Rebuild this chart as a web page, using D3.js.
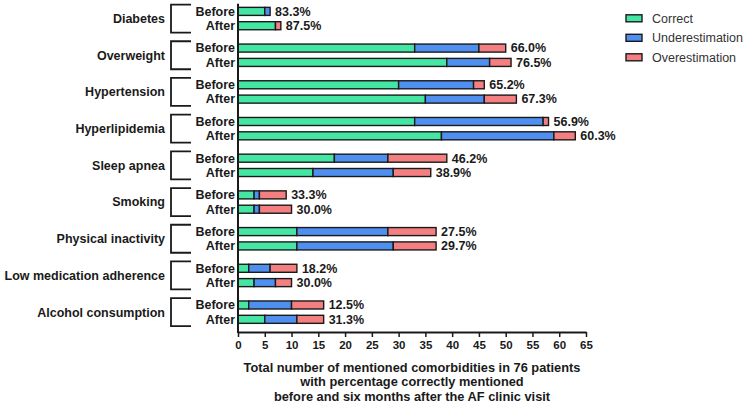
<!DOCTYPE html>
<html>
<head>
<meta charset="utf-8">
<script src="https://cdn.jsdelivr.net/npm/d3@7"></script>
<style>
    body { margin: 0; background: #fff; }
    svg { font-family: 'Liberation Sans', Arial, sans-serif; }
</style>
</head>
<body>
<div id="chart"></div>
<script>
// comorbidities, top to bottom
const categories = ['Diabetes', 'Overweight', 'Hypertension', 'Hyperlipidemia', 'Sleep apnea',
    'Smoking', 'Physical inactivity', 'Low medication adherence', 'Alcohol consumption']
const moments = ['Before', 'After']
const seriesNames = ['Correct', 'Underestimation', 'Overestimation']
const seriesColors = ['#45e6a4', '#4f8ff0', '#f47f80']

// counts per category, [before, after]
const correct = [[5, 7], [33, 39], [30, 35], [33, 38], [18, 14], [3, 3], [11, 11], [2, 3], [2, 5]]
const underestimation = [[1, 0], [12, 8], [14, 11], [24, 21], [10, 15], [1, 1], [17, 18], [4, 4], [8, 6]]
const overestimation = [[0, 1], [5, 4], [2, 6], [1, 4], [11, 7], [5, 6], [9, 8], [5, 3], [6, 5]]
const percentLabels = [['83.3%', '87.5%'], ['66.0%', '76.5%'], ['65.2%', '67.3%'], ['56.9%', '60.3%'],
    ['46.2%', '38.9%'], ['33.3%', '30.0%'], ['27.5%', '29.7%'], ['18.2%', '30.0%'], ['12.5%', '31.3%']]
const xTicks = d3.range(0, 66, 5)
const axisTitle = ['Total number of mentioned comorbidities in 76 patients',
    'with percentage correctly mentioned',
    'before and six months after the AF clinic visit']

const width = 747, height = 407
const margin = {top: 0.2, left: 238}
const plotWidth = 348, plotHeight = 330.3

const svg = d3.select('#chart').append('svg')
    .attr('width', width)
    .attr('height', height)

const g = svg.append('g')
    .attr('transform', 'translate(' + margin.left + ',' + margin.top + ')')

const x = d3.scaleLinear().domain([0, 65]).range([0, plotWidth])
const y = d3.scaleBand().domain(categories).range([0, plotHeight])
const ySub = d3.scaleBand().domain(moments).range([0, y.bandwidth()])
    .paddingInner(0.44).paddingOuter(0.5)

// build rows
const rows = []
categories.forEach((cat, i) => {
    moments.forEach((m, j) => {
        const vals = [correct[i][j], underestimation[i][j], overestimation[i][j]]
        let start = 0
        const segs = vals.map((v, k) => {
            const s = {start: start, end: start + v, color: seriesColors[k]}
            start += v
            return s
        })
        rows.push({cat: cat, moment: m, segs: segs, total: start, label: percentLabels[i][j]})
    })
})

const rowG = g.selectAll('.row')
    .data(rows)
    .enter().append('g')
    .attr('class', 'row')
    .attr('transform', d => 'translate(0,' + (y(d.cat) + ySub(d.moment)) + ')')

rowG.selectAll('rect')
    .data(d => d.segs.filter(s => s.end > s.start))
    .enter().append('rect')
    .attr('x', s => x(s.start))
    .attr('width', s => x(s.end) - x(s.start))
    .attr('y', 0)
    .attr('height', ySub.bandwidth())
    .attr('fill', s => s.color)
    .attr('stroke', '#1a1a1a')
    .attr('stroke-width', 1.4)

rowG.append('text')
    .attr('x', d => x(d.total) + 5)
    .attr('y', ySub.bandwidth() / 2)
    .attr('dy', '0.35em')
    .style('font-size', '12.5px')
    .style('font-weight', 'bold')
    .attr('fill', '#1a1a1a')
    .text(d => d.label)

rowG.append('text')
    .attr('x', -3)
    .attr('y', ySub.bandwidth() / 2)
    .attr('dy', '0.35em')
    .attr('text-anchor', 'end')
    .style('font-size', '12.5px')
    .style('font-weight', 'bold')
    .attr('fill', '#1a1a1a')
    .text(d => d.moment)

// brackets + category names
const catG = g.selectAll('.cat')
    .data(categories)
    .enter().append('g')
    .attr('class', 'cat')
    .attr('transform', d => 'translate(0,' + (y(d) + y.bandwidth() / 2) + ')')

catG.append('path')
    .attr('d', 'M-47,-14H-67V14H-47')
    .attr('fill', 'none')
    .attr('stroke', '#1a1a1a')
    .attr('stroke-width', 1.8)

catG.append('text')
    .attr('x', -73)
    .attr('dy', '0.35em')
    .attr('text-anchor', 'end')
    .style('font-size', '12.5px')
    .style('font-weight', 'bold')
    .attr('fill', '#1a1a1a')
    .text(d => d)

// axes
const xAxis = g.append('g')
    .attr('class', 'x-axis')
    .attr('transform', 'translate(0,' + (plotHeight + 1.5) + ')')
    .call(d3.axisBottom(x).tickValues(xTicks).tickSize(5).tickSizeOuter(0).tickPadding(4))
xAxis.select('.domain').attr('stroke', '#1a1a1a').attr('stroke-width', 2)
xAxis.selectAll('.tick line').attr('stroke', '#1a1a1a').attr('stroke-width', 1.5)
xAxis.selectAll('text')
    .style('font-size', '11.5px')
    .style('font-weight', 'bold')
    .style('font-family', "'Liberation Sans', Arial, sans-serif")
    .attr('fill', '#1a1a1a')

g.append('line')
    .attr('x1', 0).attr('x2', 0)
    .attr('y1', 3.5).attr('y2', plotHeight + 2.5)
    .attr('stroke', '#1a1a1a')
    .attr('stroke-width', 2)

g.selectAll('.axis-title')
    .data(axisTitle)
    .enter().append('text')
    .attr('class', 'axis-title')
    .attr('x', plotWidth / 2)
    .attr('y', (d, i) => 371.5 + i * 14.7)
    .attr('text-anchor', 'middle')
    .style('font-size', '12.8px')
    .style('font-weight', 'bold')
    .attr('fill', '#1a1a1a')
    .text(d => d)

// legend
const legend = svg.selectAll('.legend')
    .data(seriesNames)
    .enter().append('g')
    .attr('class', 'legend')
    .attr('transform', (d, i) => 'translate(626,' + (18.3 + i * 19.5) + ')')

legend.append('rect')
    .attr('x', 0).attr('y', -3.5)
    .attr('width', 16).attr('height', 7)
    .attr('fill', (d, i) => seriesColors[i])
    .attr('stroke', '#1a1a1a')
    .attr('stroke-width', 1.4)

legend.append('text')
    .attr('x', 26)
    .attr('dy', '0.35em')
    .style('font-size', '12.5px')
    .attr('fill', '#333')
    .text(d => d)
</script>
</body>
</html>
